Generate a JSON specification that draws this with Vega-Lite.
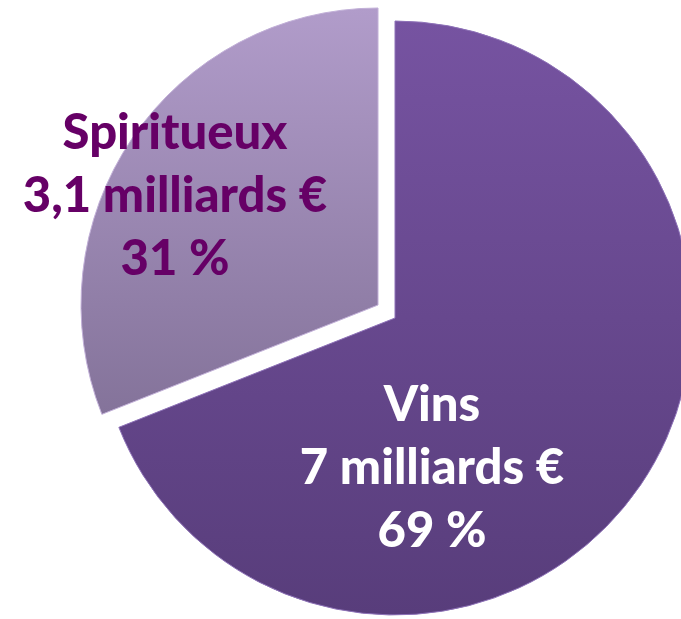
{
  "$schema": "https://vega.github.io/schema/vega-lite/v6.json",
  "width": 572,
  "height": 600,
  "autosize": {"type": "none"},
  "padding": {"left": 109, "top": 18, "right": 0, "bottom": 1},
  "background": "white",
  "config": {"view": {"stroke": null}},
  "data": {
    "values": [
      {"cat": "Vins", "label": "Vins\n7 milliards €\n69 %", "pct": 69},
      {"cat": "Spiritueux", "label": "Spiritueux\n3,1 milliards €\n31 %", "pct": 31}
    ]
  },
  "transform": [
    {"stack": "pct", "groupby": [], "sort": [{"field": "pct", "order": "descending"}], "as": ["t0", "t1"]}
  ],
  "encoding": {
    "theta": {"field": "t0", "type": "quantitative", "scale": {"domain": [0, 100]}},
    "theta2": {"field": "t1"}
  },
  "layer": [
    {
      "transform": [{"filter": "datum.cat === 'Vins'"}],
      "mark": {
        "type": "arc",
        "radius": 297,
        "stroke": "#8e72b8",
        "strokeWidth": 1,
        "color": {
          "gradient": "linear", "x1": 0, "y1": 0, "x2": 0, "y2": 1,
          "stops": [{"offset": 0, "color": "#7653a1"}, {"offset": 1, "color": "#583d7b"}]
        }
      }
    },
    {
      "transform": [{"filter": "datum.cat === 'Spiritueux'"}],
      "mark": {
        "type": "arc",
        "radius": 297,
        "xOffset": -17,
        "yOffset": -13,
        "stroke": "#c2b0d8",
        "strokeWidth": 1,
        "color": {
          "gradient": "linear", "x1": 0, "y1": 0, "x2": 0, "y2": 1,
          "stops": [{"offset": 0, "color": "#b19cca"}, {"offset": 1, "color": "#84739a"}]
        }
      }
    },
    {
      "transform": [{"filter": "datum.cat === 'Vins'"}],
      "mark": {
        "type": "text",
        "radius": 0,
        "dx": 37,
        "dy": 88,
        "font": "Lato",
        "fontWeight": 900,
        "fontSize": 49,
        "lineHeight": 63,
        "lineBreak": "\n",
        "align": "center",
        "baseline": "middle",
        "color": "white"
      },
      "encoding": {"text": {"field": "label"}}
    },
    {
      "transform": [{"filter": "datum.cat === 'Spiritueux'"}],
      "mark": {
        "type": "text",
        "radius": 0,
        "dx": -220,
        "dy": -184,
        "font": "Lato",
        "fontWeight": 900,
        "fontSize": 49,
        "lineHeight": 63,
        "lineBreak": "\n",
        "align": "center",
        "baseline": "middle",
        "color": "#660066"
      },
      "encoding": {"text": {"field": "label"}}
    }
  ]
}
